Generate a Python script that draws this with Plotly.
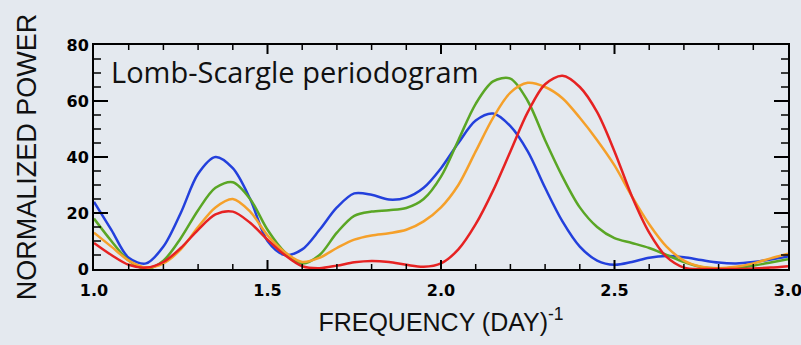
import plotly.graph_objects as go

freq = [1.00, 1.05, 1.10, 1.15, 1.20, 1.25, 1.30, 1.35, 1.40, 1.45,
        1.50, 1.55, 1.60, 1.65, 1.70, 1.75, 1.80, 1.85, 1.90, 1.95,
        2.00, 2.05, 2.10, 2.15, 2.20, 2.25, 2.30, 2.35, 2.40, 2.45,
        2.50, 2.55, 2.60, 2.65, 2.70, 2.75, 2.80, 2.85, 2.90, 2.95, 3.00]

blue = [24, 14, 4, 2, 8, 20, 34, 40, 36, 25,
        10, 5, 7, 14, 22, 27, 26.5, 24.8, 25.5, 29,
        36, 45, 53, 55.5, 51, 42, 29, 17, 8, 3,
        1.5, 2.5, 4, 4.6, 4.2, 3.2, 2.3, 2, 2.5, 3.4, 4.5]

green = [18, 10, 3, 0, 3, 11, 21, 29, 31, 25,
         14, 6, 2, 5, 13, 19, 20.5, 21, 21.8, 25,
         33, 46, 59, 67, 68, 60, 46, 33, 22, 15,
         11, 9.3, 7.5, 5, 2.5, 0.7, 0.2, 0.5, 1.2, 2.3, 3.5]

orange = [13, 8, 3, 0.5, 2, 7, 15, 22, 25, 20.5,
          12, 6, 2.5, 4, 7.5, 10.5, 12, 12.8, 14, 17,
          22, 30, 42, 54, 63, 66.5, 65, 61, 54, 46,
          37, 26, 16, 8, 3, 0.8, 0.3, 0.8, 2, 3.8, 5.5]

red = [9.3, 5, 1.5, 0.5, 2.5, 7.5, 14, 19.5, 20.5, 16.5,
       10.5, 5, 1, 0.3, 1.2, 2.4, 2.9, 2.5, 1.5, 0.8,
       2, 7, 16, 28, 42, 56, 66, 69, 65, 56,
       42, 26, 13, 4.3, 0.5, 0, 0, 0, 0.2, 0.5, 1]

series = [("blue", blue, "#2340dc"), ("green", green, "#5aa625"),
          ("orange", orange, "#f5a02a"), ("red", red, "#e62222")]

x_ticks = [1.0, 1.5, 2.0, 2.5, 3.0]
x_ticklabels = ["1.0", "1.5", "2.0", "2.5", "3.0"]
y_ticks = [0, 20, 40, 60, 80]
y_ticklabels = ["0", "20", "40", "60", "80"]
x_minor = [round(1.0 + 0.1 * i, 2) for i in range(1, 20)]
y_minor = [5 * i for i in range(1, 16)]

W, H = 801, 345
ML, MR, MT, MB = 94, 13, 45, 76
XR = [1.0, 3.0]
YR = [0, 80]
plot_w = W - ML - MR
plot_h = H - MT - MB
x_per_px = (XR[1] - XR[0]) / plot_w
y_per_px = (YR[1] - YR[0]) / plot_h

bg = "#e4e9ef"
fig = go.Figure()
for name, ys, col in series:
    fig.add_trace(go.Scatter(x=freq, y=ys, mode="lines", name=name,
                             line=dict(color=col, width=2.5, shape="spline", smoothing=0.9),
                             showlegend=False, hoverinfo="skip"))

# inside, mirrored tick marks built from the tick lists as line segments
def tick_segments(major, minor, major_px, minor_px, along_x):
    xs, ys, ws = [], [], []
    segs_major_x, segs_major_y = [], []
    segs_minor_x, segs_minor_y = [], []
    for vals, px, sx, sy in ((major, major_px, segs_major_x, segs_major_y),
                             (minor, minor_px, segs_minor_x, segs_minor_y)):
        for v in vals:
            if along_x:
                L = px * y_per_px
                sx += [v, v, None, v, v, None]
                sy += [YR[0], YR[0] + L, None, YR[1], YR[1] - L, None]
            else:
                L = px * x_per_px
                sy += [v, v, None, v, v, None]
                sx += [XR[0], XR[0] + L, None, XR[1], XR[1] - L, None]
    return (segs_major_x, segs_major_y), (segs_minor_x, segs_minor_y)

x_minor_only = [v for v in x_minor if all(abs(v - t) > 1e-6 for t in x_ticks)]
y_minor_only = [v for v in y_minor if v not in y_ticks]
(xmx, xmy), (xnx, xny) = tick_segments(x_ticks[1:-1], x_minor_only, 9, 5, True)
(ymx, ymy), (ynx, yny) = tick_segments(y_ticks[1:-1], y_minor_only, 14, 7, False)
for sx, sy, w in ((xmx, xmy, 2), (xnx, xny, 1.5), (ymx, ymy, 2), (ynx, yny, 1.5)):
    fig.add_trace(go.Scatter(x=sx, y=sy, mode="lines", line=dict(color="black", width=w),
                             showlegend=False, hoverinfo="skip", connectgaps=False))

tickfont = dict(family="DejaVu Sans", size=16, color="black")
fig.update_layout(
    template="none",
    width=W, height=H,
    margin=dict(l=ML, r=MR, t=MT, b=MB),
    paper_bgcolor=bg, plot_bgcolor=bg,
)
fig.update_xaxes(range=XR, tickmode="array", tickvals=x_ticks,
                 ticktext=["<b>" + t + "</b>" for t in x_ticklabels],
                 ticks="", ticklabelstandoff=6,
                 showline=True, linecolor="#000000", linewidth=2, mirror=True,
                 showgrid=False, zeroline=False, tickfont=tickfont,
                 ticklabeloverflow="allow", automargin=False,
                 title_text="FREQUENCY (DAY)<sup>-1</sup>",
                 title_font=dict(family="Liberation Sans", size=25, color="#111"),
                 title_standoff=14)
fig.update_yaxes(range=YR, tickmode="array", tickvals=y_ticks,
                 ticktext=["<b>" + t + "</b>" for t in y_ticklabels],
                 ticks="",
                 showline=True, linecolor="#000000", linewidth=2, mirror=True,
                 showgrid=False, zeroline=False, tickfont=tickfont,
                 ticklabeloverflow="allow", automargin=False,
                 title_text="NORMALIZED POWER",
                 title_font=dict(family="Liberation Sans", size=27, color="#111"),
                 title_standoff=22)

fig.add_annotation(text="Lomb-Scargle periodogram", xref="paper", yref="paper",
                   x=0.021, y=0.88, xanchor="left", yanchor="middle", showarrow=False,
                   font=dict(family="Open Sans", size=29, color="#111"))
fig.write_html("out.html", config={"displayModeBar": False},
               post_script="document.body.style.margin='0px';")
